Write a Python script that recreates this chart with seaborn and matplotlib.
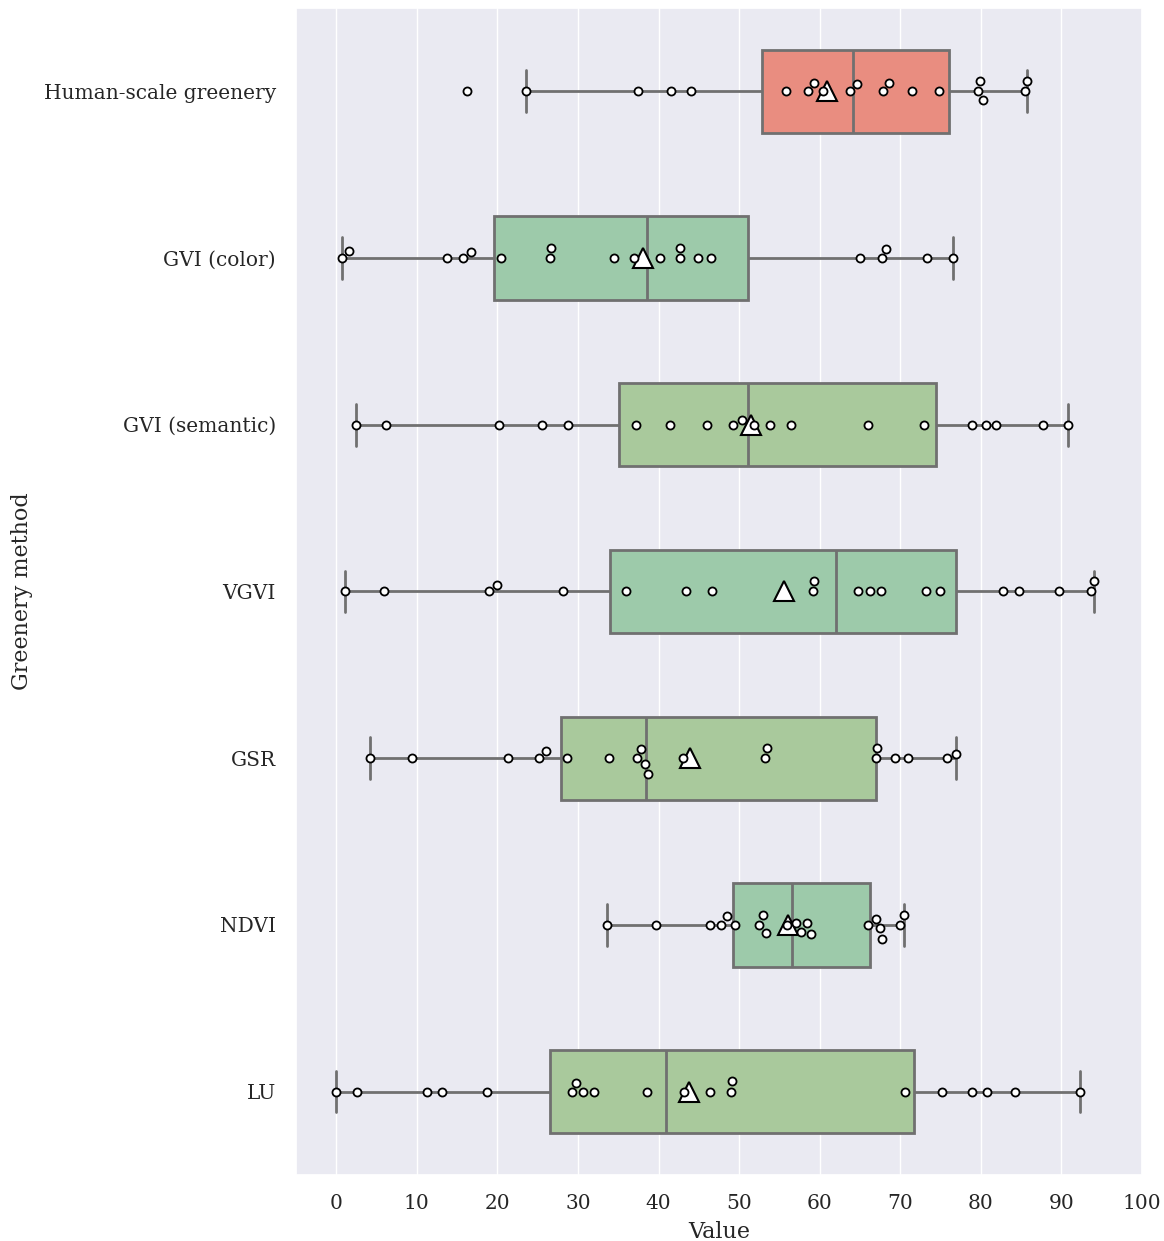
import numpy as np
import pandas as pd
import seaborn as sns
import matplotlib
matplotlib.use("Agg")
import matplotlib.pyplot as plt

methods = ["Human-scale greenery", "GVI (color)", "GVI (semantic)", "VGVI",
           "GSR", "NDVI", "LU"]

human_scale = [16.2, 23.5, 37.4, 41.6, 44.0, 55.8, 58.6, 59.3, 60.4, 63.7,
               64.6, 67.8, 68.6, 71.4, 74.8, 79.7, 79.9, 80.3, 85.5, 85.7]
gvi_color = [0.7, 1.6, 13.7, 15.7, 16.7, 20.5, 26.5, 26.7, 34.5, 37.0,
             40.2, 42.6, 42.7, 44.9, 46.5, 65.0, 67.7, 68.2, 73.3, 76.6]
gvi_semantic = [2.5, 6.2, 20.2, 25.5, 28.8, 37.2, 41.4, 46.0, 49.2, 50.3,
                51.8, 53.8, 56.4, 66.0, 73.0, 78.9, 80.6, 81.9, 87.7, 90.8]
vgvi = [1.1, 5.9, 19.0, 20.0, 28.1, 36.0, 43.4, 46.6, 59.2, 59.3,
        64.8, 66.2, 67.6, 73.2, 74.9, 82.8, 84.7, 89.7, 93.7, 94.0]
gsr = [4.2, 9.4, 21.3, 25.1, 26.0, 28.6, 33.8, 37.3, 37.8, 38.3,
       38.7, 43.0, 53.2, 53.4, 67.0, 67.1, 69.4, 71.0, 75.8, 76.9]
ndvi = [33.6, 39.7, 46.4, 47.8, 48.5, 49.5, 52.5, 52.9, 53.3, 55.9,
        57.1, 57.7, 58.4, 58.9, 66.0, 67.0, 67.5, 67.7, 70.0, 70.5]
lu = [0.0, 2.6, 11.2, 13.1, 18.7, 29.2, 29.8, 30.6, 32.0, 38.6,
      43.2, 46.4, 49.0, 49.1, 70.6, 75.2, 78.9, 80.8, 84.2, 92.3]

box_colors = ["#e98d80", "#9dcaaa", "#a9c99c", "#9dcaaa",
              "#a9c99c", "#9dcaaa", "#a9c99c"]

series = [human_scale, gvi_color, gvi_semantic, vgvi, gsr, ndvi, lu]
df = pd.DataFrame({
    "Greenery method": np.repeat(methods, [len(s) for s in series]),
    "Value": np.concatenate(series),
})

sns.set_theme(style="darkgrid")
plt.rcParams["font.family"] = ["DejaVu Serif"]

fig = plt.figure(figsize=(11.64, 12.41), dpi=100)
ax = fig.add_axes([0.2543, 0.0532, 0.7268, 0.9404])

sns.boxplot(data=df, x="Value", y="Greenery method", order=methods,
            hue="Greenery method", hue_order=methods, palette=box_colors,
            legend=False, saturation=1, width=0.5, whis=1.5,
            showfliers=False, showmeans=True, linecolor="#707070",
            linewidth=2,
            meanprops=dict(marker="^", markerfacecolor="white",
                           markeredgecolor="black", markersize=15,
                           markeredgewidth=1.5),
            ax=ax)
n_before = len(ax.collections)
sns.swarmplot(data=df, x="Value", y="Greenery method", order=methods,
              color="white", edgecolor="black", linewidth=1.3, size=5.8,
              ax=ax)
swarms = ax.collections[n_before:]

ax.set_xlim(-5, 100)
ax.set_xticks(range(0, 101, 10))
ax.tick_params(axis="y", labelsize=14.5, pad=8.5)
ax.tick_params(axis="x", labelsize=14.5, pad=7.5)
ax.set_xlabel("Value", fontsize=16, labelpad=6)
ax.set_ylabel("Greenery method", fontsize=16, labelpad=8)

# the swarm in the original dodges upward first, so mirror the offsets
fig.canvas.draw()
for coll in swarms:
    off = np.array(coll.get_offsets())
    cat = np.round(off[:, 1])
    off[:, 1] = 2 * cat - off[:, 1]
    coll.set_offsets(off)
    if "draw" in coll.__dict__:
        del coll.draw

fig.savefig("out.png", dpi=100)
